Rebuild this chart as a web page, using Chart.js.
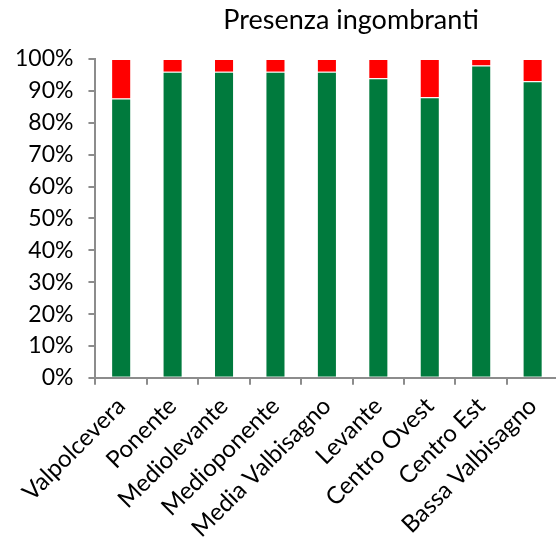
<!DOCTYPE html>
<html>
<head>
<meta charset="utf-8">
<script src="https://cdn.jsdelivr.net/npm/chart.js@4/dist/chart.umd.min.js"></script>
<style>
  html, body { margin: 0; padding: 0; background: #fff; overflow: hidden; }
  #wrap { width: 560px; height: 552px; }
</style>
</head>
<body>
<div id="wrap"><canvas id="barChart"></canvas></div>
<script>
// Data
const categories = ['Valpolcevera', 'Ponente', 'Mediolevante', 'Medioponente', 'Media Valbisagno', 'Levante', 'Centro Ovest', 'Centro Est', 'Bassa Valbisagno'];
const presenti = [12.4, 4, 4, 4, 4, 6, 12, 2, 7];
const assenti = [87.6, 96, 96, 96, 96, 94, 88, 98, 93];
const titleText = 'Presenza ingombranti';

const fontFamily = 'Lato, "Open Sans", sans-serif';
const axisColor = '#8c8c8c';

// title drawn a bit right of centre, like the original
const titlePlugin = {
    id: 'offsetTitle',
    afterDraw(chart) {
        const ctx = chart.ctx;
        ctx.save();
        ctx.font = '27px ' + fontFamily;
        ctx.fillStyle = '#000';
        ctx.textAlign = 'center';
        ctx.textBaseline = 'middle';
        ctx.fillText(titleText, 351, 20);
        ctx.restore();
    }
};

const barCtx = document.getElementById('barChart').getContext('2d');
new Chart(barCtx, {
    type: 'bar',
    data: {
        labels: categories,
        datasets: [{
            label: 'No',
            data: assenti,
            backgroundColor: '#007A3D',
            borderColor: 'rgba(255,255,255,0.35)',
            borderWidth: 1,
            categoryPercentage: 1,
            barPercentage: 0.39
        }, {
            label: 'Sì',
            data: presenti,
            backgroundColor: '#FF0000',
            borderColor: 'rgba(255,255,255,0.35)',
            borderWidth: 1,
            categoryPercentage: 1,
            barPercentage: 0.39
        }]
    },
    options: {
        responsive: true,
        maintainAspectRatio: false,
        animation: false,
        layout: {
            padding: { top: 59, left: 0, right: 0, bottom: 2 }
        },
        plugins: {
            legend: { display: false },
            title: { display: false },
            tooltip: { enabled: false }
        },
        scales: {
            x: {
                stacked: true,
                grid: {
                    display: true,
                    drawOnChartArea: false,
                    offset: true,
                    tickLength: 7,
                    color: axisColor,
                    lineWidth: 2
                },
                border: { color: axisColor, width: 2 },
                ticks: {
                    color: '#000',
                    font: { family: fontFamily, size: 24 },
                    minRotation: 45,
                    maxRotation: 45,
                    autoSkip: false,
                    padding: 7
                }
            },
            y: {
                stacked: true,
                min: 0,
                max: 100,
                grid: {
                    display: true,
                    drawOnChartArea: false,
                    tickLength: 7,
                    color: axisColor,
                    lineWidth: 2
                },
                border: { color: axisColor, width: 2 },
                ticks: {
                    stepSize: 10,
                    color: '#000',
                    font: { family: fontFamily, size: 23 },
                    padding: 15,
                    callback: v => v + '%'
                }
            }
        }
    },
    plugins: [titlePlugin]
});
</script>
</body>
</html>
